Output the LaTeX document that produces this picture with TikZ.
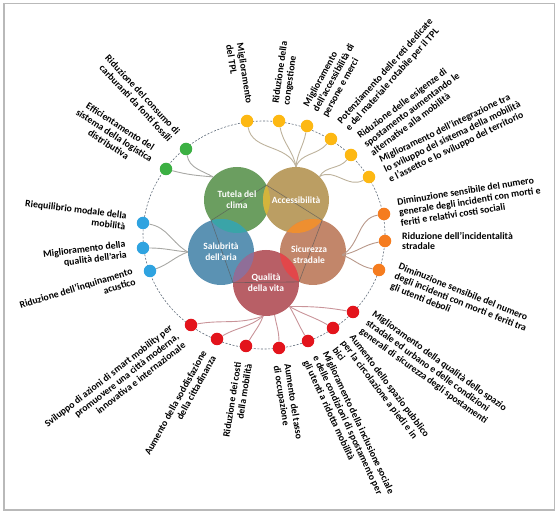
\documentclass[tikz,border=0pt]{standalone}
\usepackage{fontspec}
\setmainfont{Carlito}
\usetikzlibrary{calc}
\definecolor{climaGreen}{HTML}{6B9E60}
\definecolor{accessTan}{HTML}{BB9E63}
\definecolor{salubBlue}{HTML}{5B92B3}
\definecolor{sicurBrown}{HTML}{C2866A}
\definecolor{vitaRose}{HTML}{B85F66}
\definecolor{lensCA}{HTML}{D4B43C}
\definecolor{lensCS}{HTML}{3AA4A8}
\definecolor{lensAS}{HTML}{EE8F30}
\definecolor{lensSV}{HTML}{E2474A}
\definecolor{lensBV}{HTML}{8F6E98}
\definecolor{dotGreen}{HTML}{3CB043}
\definecolor{dotYellow}{HTML}{FDB813}
\definecolor{dotOrange}{HTML}{F57C1F}
\definecolor{dotRed}{HTML}{E3141C}
\definecolor{dotBlue}{HTML}{2FA3E0}
\definecolor{lineGray}{HTML}{A8A8A4}
\definecolor{lineTan}{HTML}{BDB29C}
\definecolor{lineBrown}{HTML}{B8988A}
\definecolor{lineRose}{HTML}{C99499}
\definecolor{ringGray}{HTML}{5F6B7A}
\tikzset{
  bigC/.style={circle, minimum size=66pt, inner sep=0pt, text=white, align=center,
               font=\bfseries\fontsize{9.5}{11}\selectfont},
  dotC/.style={circle, minimum size=12.5pt, inner sep=0pt},
  dotG/.style={dotC, fill=dotGreen},
  dotY/.style={dotC, fill=dotYellow},
  dotO/.style={dotC, fill=dotOrange},
  dotR/.style={dotC, fill=dotRed},
  dotB/.style={dotC, fill=dotBlue},
  lbl/.style={font=\bfseries\fontsize{9.8}{10.8}\selectfont, inner sep=1pt},
  lblL/.style={lbl, anchor=east, align=right},
  lblR/.style={lbl, anchor=west, align=left},
  lnG/.style={draw=lineGray, line width=0.9pt},
  lnY/.style={draw=lineTan, line width=0.9pt},
  lnO/.style={draw=lineBrown, line width=0.9pt},
  lnR/.style={draw=lineRose, line width=0.9pt},
  ring/.style={draw=ringGray, line width=0.6pt, dash pattern=on 2pt off 1.6pt},
}
\begin{document}
\begin{tikzpicture}[x=1pt, y=1pt]
  \useasboundingbox (0,0) rectangle (560,513);
  \draw[gray!55, line width=1.3pt] (4,3) rectangle (554.5,509.5);

  % ring of the objectives
  \coordinate (c) at (264,278);
  \draw[ring] (c) ellipse [x radius=121pt, y radius=114pt];

  % the five macro-objectives
  \coordinate (cClima) at (237,313);
  \coordinate (cAccess) at (296,313);
  \coordinate (cSalub) at (221,261);
  \coordinate (cSicur) at (313,261);
  \coordinate (cVita) at (266,230);
  \fill[climaGreen] (cClima) circle (33pt);
  \fill[accessTan] (cAccess) circle (33pt);
  \fill[salubBlue] (cSalub) circle (33pt);
  \fill[sicurBrown] (cSicur) circle (33pt);
  \fill[vitaRose] (cVita) circle (33pt);
  \begin{scope}
    \clip (cClima) circle (33pt);
    \fill[lensCA] (cAccess) circle (33pt);
    \fill[lensCS] (cSalub) circle (33pt);
  \end{scope}
  \begin{scope}
    \clip (cSicur) circle (33pt);
    \fill[lensAS] (cAccess) circle (33pt);
    \fill[lensSV] (cVita) circle (33pt);
  \end{scope}
  \begin{scope}
    \clip (cSalub) circle (33pt);
    \fill[lensBV] (cVita) circle (33pt);
  \end{scope}
  \draw[black!65, line width=0.6pt, opacity=0.7] (266.5,327.8) -- (211.1,292.5)
    -- (233,230.3) -- (299,231.1) -- (322.2,292.8) -- cycle;
  \node[bigC] (clima) at (cClima) {Tutela del\\clima};
  \node[bigC] (access) at (cAccess) {Accessibilità};
  \node[bigC] (salub) at (cSalub) {Salubrità\\dell'aria};
  \node[bigC] (sicur) at ($(cSicur)+(-4,-3)$) {Sicurezza\\stradale};
  \node[bigC] (vita) at (cVita) {Qualità\\della vita};

  % dots
  \node[dotG] (g1) at (186,364) {};
  \node[dotG] (g2) at (166,344) {};
  \node[dotY] (y1) at (247,392) {};
  \node[dotY] (y2) at (279,392) {};
  \node[dotY] (y3) at (307,387) {};
  \node[dotY] (y4) at (331,374) {};
  \node[dotY] (y5) at (351,358) {};
  \node[dotY] (y6) at (369,336) {};
  \node[dotO] (o1) at (384,299) {};
  \node[dotO] (o2) at (385,272) {};
  \node[dotO] (o3) at (379,243) {};
  \node[dotR] (r1) at (353,201) {};
  \node[dotR] (r2) at (333,185) {};
  \node[dotR] (r3) at (308,172) {};
  \node[dotR] (r4) at (279,165) {};
  \node[dotR] (r5) at (246,167) {};
  \node[dotR] (r6) at (217,174) {};
  \node[dotR] (r7) at (191,188) {};
  \node[dotB] (b1) at (143,290) {};
  \node[dotB] (b2) at (143,265) {};
  \node[dotB] (b3) at (150,242) {};

  % connectors
  \draw[lnG] (clima.136) to[out=150, in=-80] (g1);
  \draw[lnG] (clima.136) to[out=175, in=-15] (g2);
  \draw[lnY] (access.90) to[out=110, in=-80] (y1);
  \draw[lnY] (access.90) to[out=100, in=-80] (y2);
  \draw[lnY] (access.90) to[out=85, in=-100] (y3);
  \draw[lnY] (access.90) to[out=70, in=-130] (y4);
  \draw[lnY] (access.45) to[out=60, in=-130] (y5);
  \draw[lnY] (access.45) to[out=30, in=-150] (y6);
  \draw[lnO] (sicur.0) to[out=30, in=-170] (o1);
  \draw[lnO] (sicur.0) to[out=10, in=-170] (o2);
  \draw[lnO] (sicur.0) to[out=-20, in=170] (o3);
  \draw[lnR] (vita.315) to[out=0, in=170] (r1);
  \draw[lnR] (vita.315) to[out=-30, in=150] (r2);
  \draw[lnR] (vita.315) to[out=-60, in=120] (r3);
  \draw[lnR] (vita.285) to[out=-80, in=90] (r4);
  \draw[lnR] (vita.265) to[out=250, in=60] (r5);
  \draw[lnR] (vita.265) to[out=220, in=30] (r6);
  \draw[lnR] (vita.265) to[out=200, in=10] (r7);
  \draw[lnG] (salub.180) to[out=150, in=-10] (b1);
  \draw[lnG] (salub.180) to[out=175, in=0] (b2);
  \draw[lnG] (salub.180) to[out=200, in=20] (b3);

  % labels
  \node[lblL, rotate=-47] (g1l) at ($(g1)+(133:16)$) {Riduzione del consumo di\\carburanti da fonti fossili};
  \node[lblL, rotate=-33, align=center] (g2l) at ($(g2)+(147:16)$) {Efficientamento del\\sistema della logistica\\distributiva};
  \node[lblL, rotate=-81, align=left] (y1l) at ($(y1)+(99:16)$) {Miglioramento\\del TPL};
  \node[lblR, rotate=82] (y2l) at ($(y2)+(82:16)$) {Riduzione della\\congestione};
  \node[lblR, rotate=61] (y3l) at ($(y3)+(60:16)$) {Miglioramento\\dell'accessibilità di\\persone e merci};
  \node[lblR, rotate=48] (y4l) at ($(y4)+(46:17)$) {Potenziamento delle reti dedicate\\e del materiale rotabile per il TPL};
  \node[lblR, rotate=37] (y5l) at ($(y5)+(36:16)$) {Riduzione delle esigenze di\\spostamento aumentando le\\alternative alla mobilità};
  \node[lblR, rotate=26] (y6l) at ($(y6)+(24:16)$) {Miglioramento dell'integrazione tra\\lo sviluppo del sistema della mobilità\\e l'assetto e lo sviluppo del territorio};
  \node[lblR, rotate=9] (o1l) at ($(o1)+(6:14)$) {Diminuzione sensibile del numero\\generale degli incidenti con morti e\\feriti e relativi costi sociali};
  \node[lblR] (o2l) at ($(o2)+(0:16)$) {Riduzione dell'incidentalità\\stradale};
  \node[lblR, rotate=-22] (o3l) at ($(o3)+(-22:16)$) {Diminuzione sensibile del numero\\degli incidenti con morti e feriti tra\\gli utenti deboli};
  \node[lblR, rotate=-36] (r1l) at ($(r1)+(-36:16)$) {Miglioramento della qualità dello spazio\\stradale ed urbano e delle condizioni\\generali di sicurezza degli spostamenti};
  \node[lblR, rotate=-53] (r2l) at ($(r2)+(-53:16)$) {Aumento dello spazio pubblico\\per la circolazione a piedi e in\\bici};
  \node[lblR, rotate=-65] (r3l) at ($(r3)+(-65:16)$) {Miglioramento della inclusione sociale\\e delle condizioni di spostamento per\\gli utenti a ridotta mobilità};
  \node[lblR, rotate=-81] (r4l) at ($(r4)+(-81:16)$) {Aumento del tasso\\di occupazione};
  \node[lblL, rotate=81] (r5l) at ($(r5)+(261:16)$) {Riduzione dei costi\\della mobilità};
  \node[lblL, rotate=61] (r6l) at ($(r6)+(241:16)$) {Aumento della soddisfazione\\della cittadinanza};
  \node[lblL, rotate=38] (r7l) at ($(r7)+(218:16)$) {Sviluppo di azioni di smart mobility per\\promuovere una città moderna,\\innovativa e internazionale};
  \node[lblL, rotate=-7] (b1l) at ($(b1)+(173:16)$) {Riequilibrio modale della\\mobilità};
  \node[lblL, rotate=7] (b2l) at ($(b2)+(187:16)$) {Miglioramento della\\qualità dell'aria};
  \node[lblL, rotate=17] (b3l) at ($(b3)+(197:16)$) {Riduzione dell'inquinamento\\acustico};
\end{tikzpicture}
\end{document}
